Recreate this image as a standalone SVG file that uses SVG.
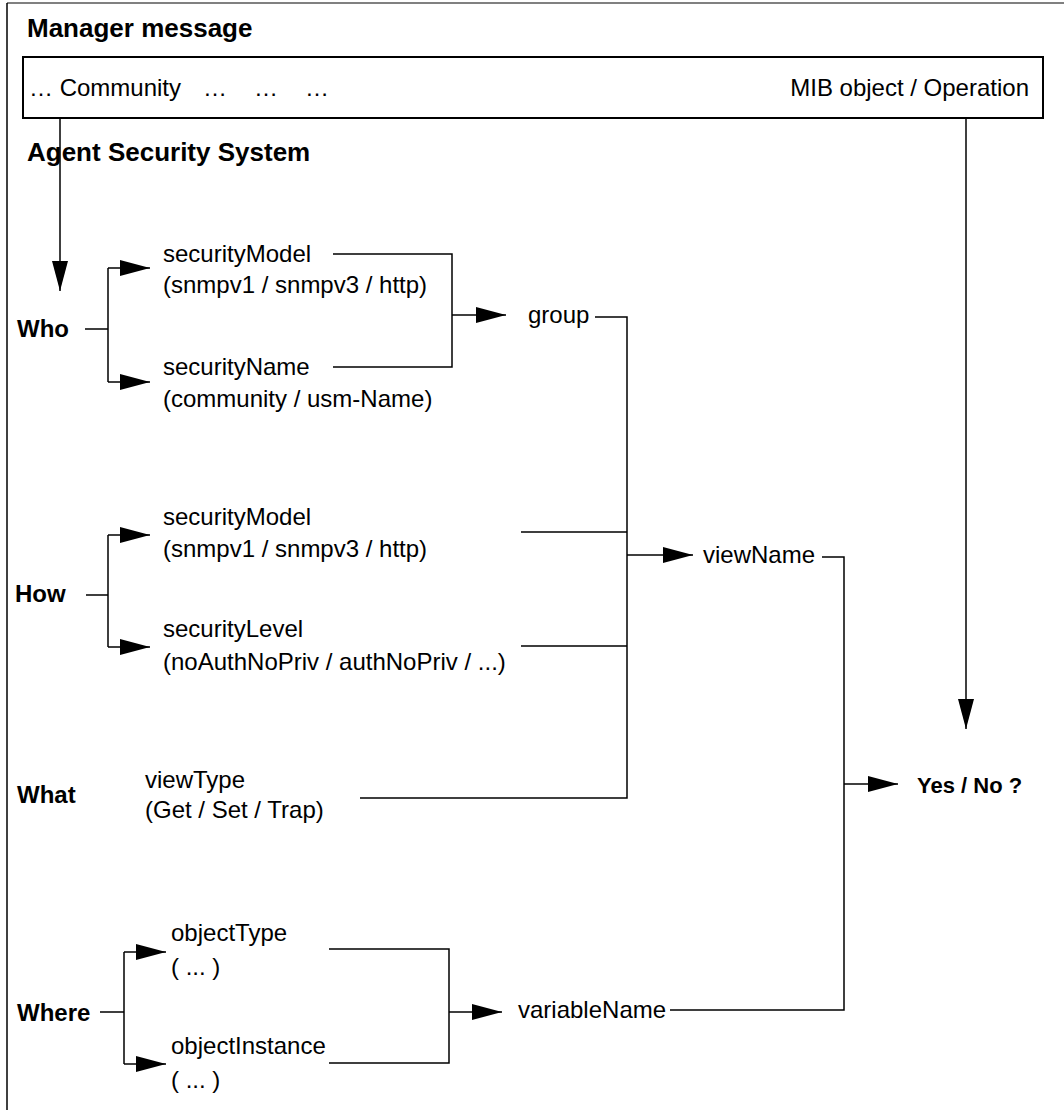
<svg xmlns="http://www.w3.org/2000/svg" width="1064" height="1110" viewBox="0 0 1064 1110">
<style>
  .t { font-family: "Liberation Sans", Arial, sans-serif; font-size: 24px; fill: #000; }
  .b { font-family: "Liberation Sans", Arial, sans-serif; font-size: 24px; font-weight: bold; fill: #000; }
  .h { font-family: "Liberation Sans", Arial, sans-serif; font-size: 26px; font-weight: bold; fill: #000; }
  .c { fill: none; stroke: #000; stroke-width: 1.5; }
  .a { fill: none; stroke: #000; stroke-width: 1.5; marker-end: url(#arr); }
</style>
<defs>
  <marker id="arr" markerUnits="userSpaceOnUse" markerWidth="30" markerHeight="16" refX="30" refY="8" orient="auto" viewBox="0 0 30 16">
    <path d="M0,0 L30,8 L0,16 Z" fill="#000"/>
  </marker>
</defs>
<rect width="1064" height="1110" fill="#fff"/>
<g id="frame">
  <line x1="7" y1="3" x2="1064" y2="3" stroke="#808080" stroke-width="2"/>
  <line x1="7" y1="3" x2="7" y2="1110" stroke="#000" stroke-width="1.5"/>
</g>
<g id="manager-message">
  <text class="h" x="27" y="37">Manager message</text>
  <rect x="23" y="57" width="1020" height="61" fill="none" stroke="#000" stroke-width="2"/>
  <text class="t" y="96"><tspan x="29">… Community</tspan><tspan x="203">…</tspan><tspan x="254">…</tspan><tspan x="305">…</tspan></text>
  <text class="t" x="1029" y="96" text-anchor="end">MIB object / Operation</text>
</g>
<g id="agent-title"><text class="h" x="27" y="161">Agent Security System</text></g>
<g id="who"><text class="b" x="17" y="337">Who</text></g>
<g id="who-securityModel"><text class="t" x="163" y="262">securityModel</text><text class="t" x="163" y="293">(snmpv1 / snmpv3 / http)</text></g>
<g id="who-securityName"><text class="t" x="163" y="375">securityName</text><text class="t" x="163" y="407">(community / usm-Name)</text></g>
<g id="group"><text class="t" x="528" y="323">group</text></g>
<g id="how"><text class="b" x="15" y="602">How</text></g>
<g id="how-securityModel"><text class="t" x="163" y="525">securityModel</text><text class="t" x="163" y="557">(snmpv1 / snmpv3 / http)</text></g>
<g id="how-securityLevel"><text class="t" x="163" y="637">securityLevel</text><text class="t" x="163" y="670">(noAuthNoPriv / authNoPriv / ...)</text></g>
<g id="viewName"><text class="t" x="703" y="563">viewName</text></g>
<g id="what"><text class="b" x="17" y="803">What</text></g>
<g id="viewType"><text class="t" x="145" y="788">viewType</text><text class="t" x="145" y="818">(Get / Set / Trap)</text></g>
<g id="yesno"><text class="b" x="917" y="793" style="font-size:22px">Yes / No ?</text></g>
<g id="where"><text class="b" x="17" y="1021">Where</text></g>
<g id="objectType"><text class="t" x="171" y="941">objectType</text><text class="t" x="171" y="975">( ... )</text></g>
<g id="objectInstance"><text class="t" x="171" y="1054">objectInstance</text><text class="t" x="171" y="1088">( ... )</text></g>
<g id="variableName"><text class="t" x="518" y="1018">variableName</text></g>
<g id="connectors">
  <path class="a" d="M60,118 V291"/>
  <path class="a" d="M966,118 V729"/>
  <path class="c" d="M85,329 H108 M108,268 V382"/>
  <path class="a" d="M108,268 H150"/>
  <path class="a" d="M108,382 H150"/>
  <path class="c" d="M333,254 H452 V367 H333"/>
  <path class="a" d="M452,315 H506"/>
  <path class="c" d="M595,317 H627 V798 H360 M521,532 H627 M521,646 H627"/>
  <path class="a" d="M627,555 H693"/>
  <path class="c" d="M86,595 H108 M108,535 V647"/>
  <path class="a" d="M108,535 H150"/>
  <path class="a" d="M108,647 H150"/>
  <path class="c" d="M822,557 H844 V1010 H670"/>
  <path class="a" d="M844,784 H898"/>
  <path class="c" d="M100,1012 H124 M124,952 V1064"/>
  <path class="a" d="M124,952 H166"/>
  <path class="a" d="M124,1064 H166"/>
  <path class="c" d="M329,949 H449 V1063 H329"/>
  <path class="a" d="M449,1012 H502"/>
</g>
</svg>
